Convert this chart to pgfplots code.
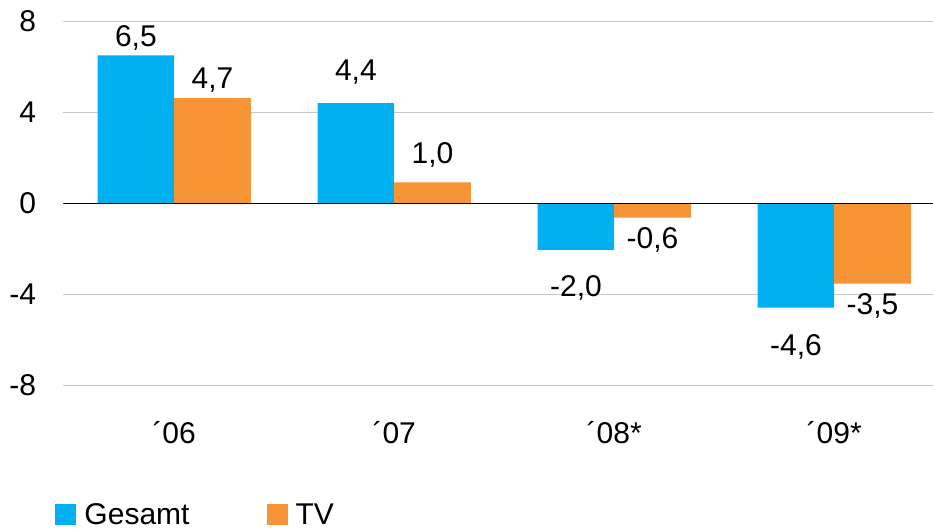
\documentclass[border=0pt]{standalone}
\usepackage{fontspec}
\setmainfont{Liberation Sans}
\usepackage{pgfplots}
\usepackage{pgfplotstable}
\pgfplotsset{compat=1.18}
\definecolor{cblue}{RGB}{0,176,240}
\definecolor{corange}{RGB}{247,148,54}
\definecolor{cgrid}{RGB}{200,200,200}
\pgfplotstableread{
x y lab off
0 6.50 {6,5} 9
1 4.40 {4,4} 23
2 -2.05 {-2,0} -46.7
3 -4.59 {-4,6} -47.3
}\gesamt
\pgfplotstableread{
x y lab off
0 4.62 {4,7} 10
1 0.92 {1,0} 19
2 -0.63 {-0,6} -30.7
3 -3.53 {-3,5} -31.3
}\tv
\pgfplotsset{barlab/.style={
  point meta=explicit symbolic,
  nodes near coords,
  visualization depends on={\thisrow{off} \as \myoff},
  every node near coord/.append style={anchor=base, inner sep=0pt, yshift=\myoff, font=\fontsize{30}{36}\selectfont},
}}
\begin{document}
\begin{tikzpicture}[font=\fontsize{30}{36}\selectfont]
\path[use as bounding box] (0,0) rectangle (933pt,530pt);
\begin{axis}[
  at={(63.3pt,144.7pt)}, anchor=south west,
  scale only axis, width=869.7pt, height=364pt,
  xmin=-0.504, xmax=3.449, ymin=-8, ymax=8,
  axis lines=left, axis line style={draw=none},
  tick style={draw=none}, major tick length=0pt,
  ytick={-8,-4,0,4,8}, yticklabels={-8,-4,0,4,8},
  xtick={0,1,2,3}, xticklabels={´06,´07,´08*,´09*},
  ymajorgrids, major grid style={cgrid, line width=1.6pt},
  yticklabel style={anchor=east, inner sep=0pt, xshift=-27pt},
  xticklabel style={anchor=base, inner sep=0pt, yshift=-58pt},
  ybar, bar width=0.348,
  legend columns=2,
  legend style={at={(axis description cs:-0.0092,-0.356)}, anchor=west, draw=none, inner sep=0pt,
    nodes={inner xsep=8pt, inner ysep=0pt},
    /tikz/every even column/.append style={column sep=69pt}},
  legend image code/.code={\fill[#1,draw=none] (0pt,-10.5pt) rectangle (21pt,10.5pt);},
]
\addplot[fill=cblue, draw=none, bar shift=-0.174, barlab] table[x=x, y=y, meta=lab] {\gesamt};
\addlegendentry{Gesamt}
\addplot[fill=corange, draw=none, bar shift=0.174, barlab] table[x=x, y=y, meta=lab] {\tv};
\addlegendentry{TV}
\addplot[sharp plot, black, line width=1.6pt, forget plot] coordinates {(-0.6,0) (3.6,0)};
\end{axis}
\end{tikzpicture}
\end{document}
